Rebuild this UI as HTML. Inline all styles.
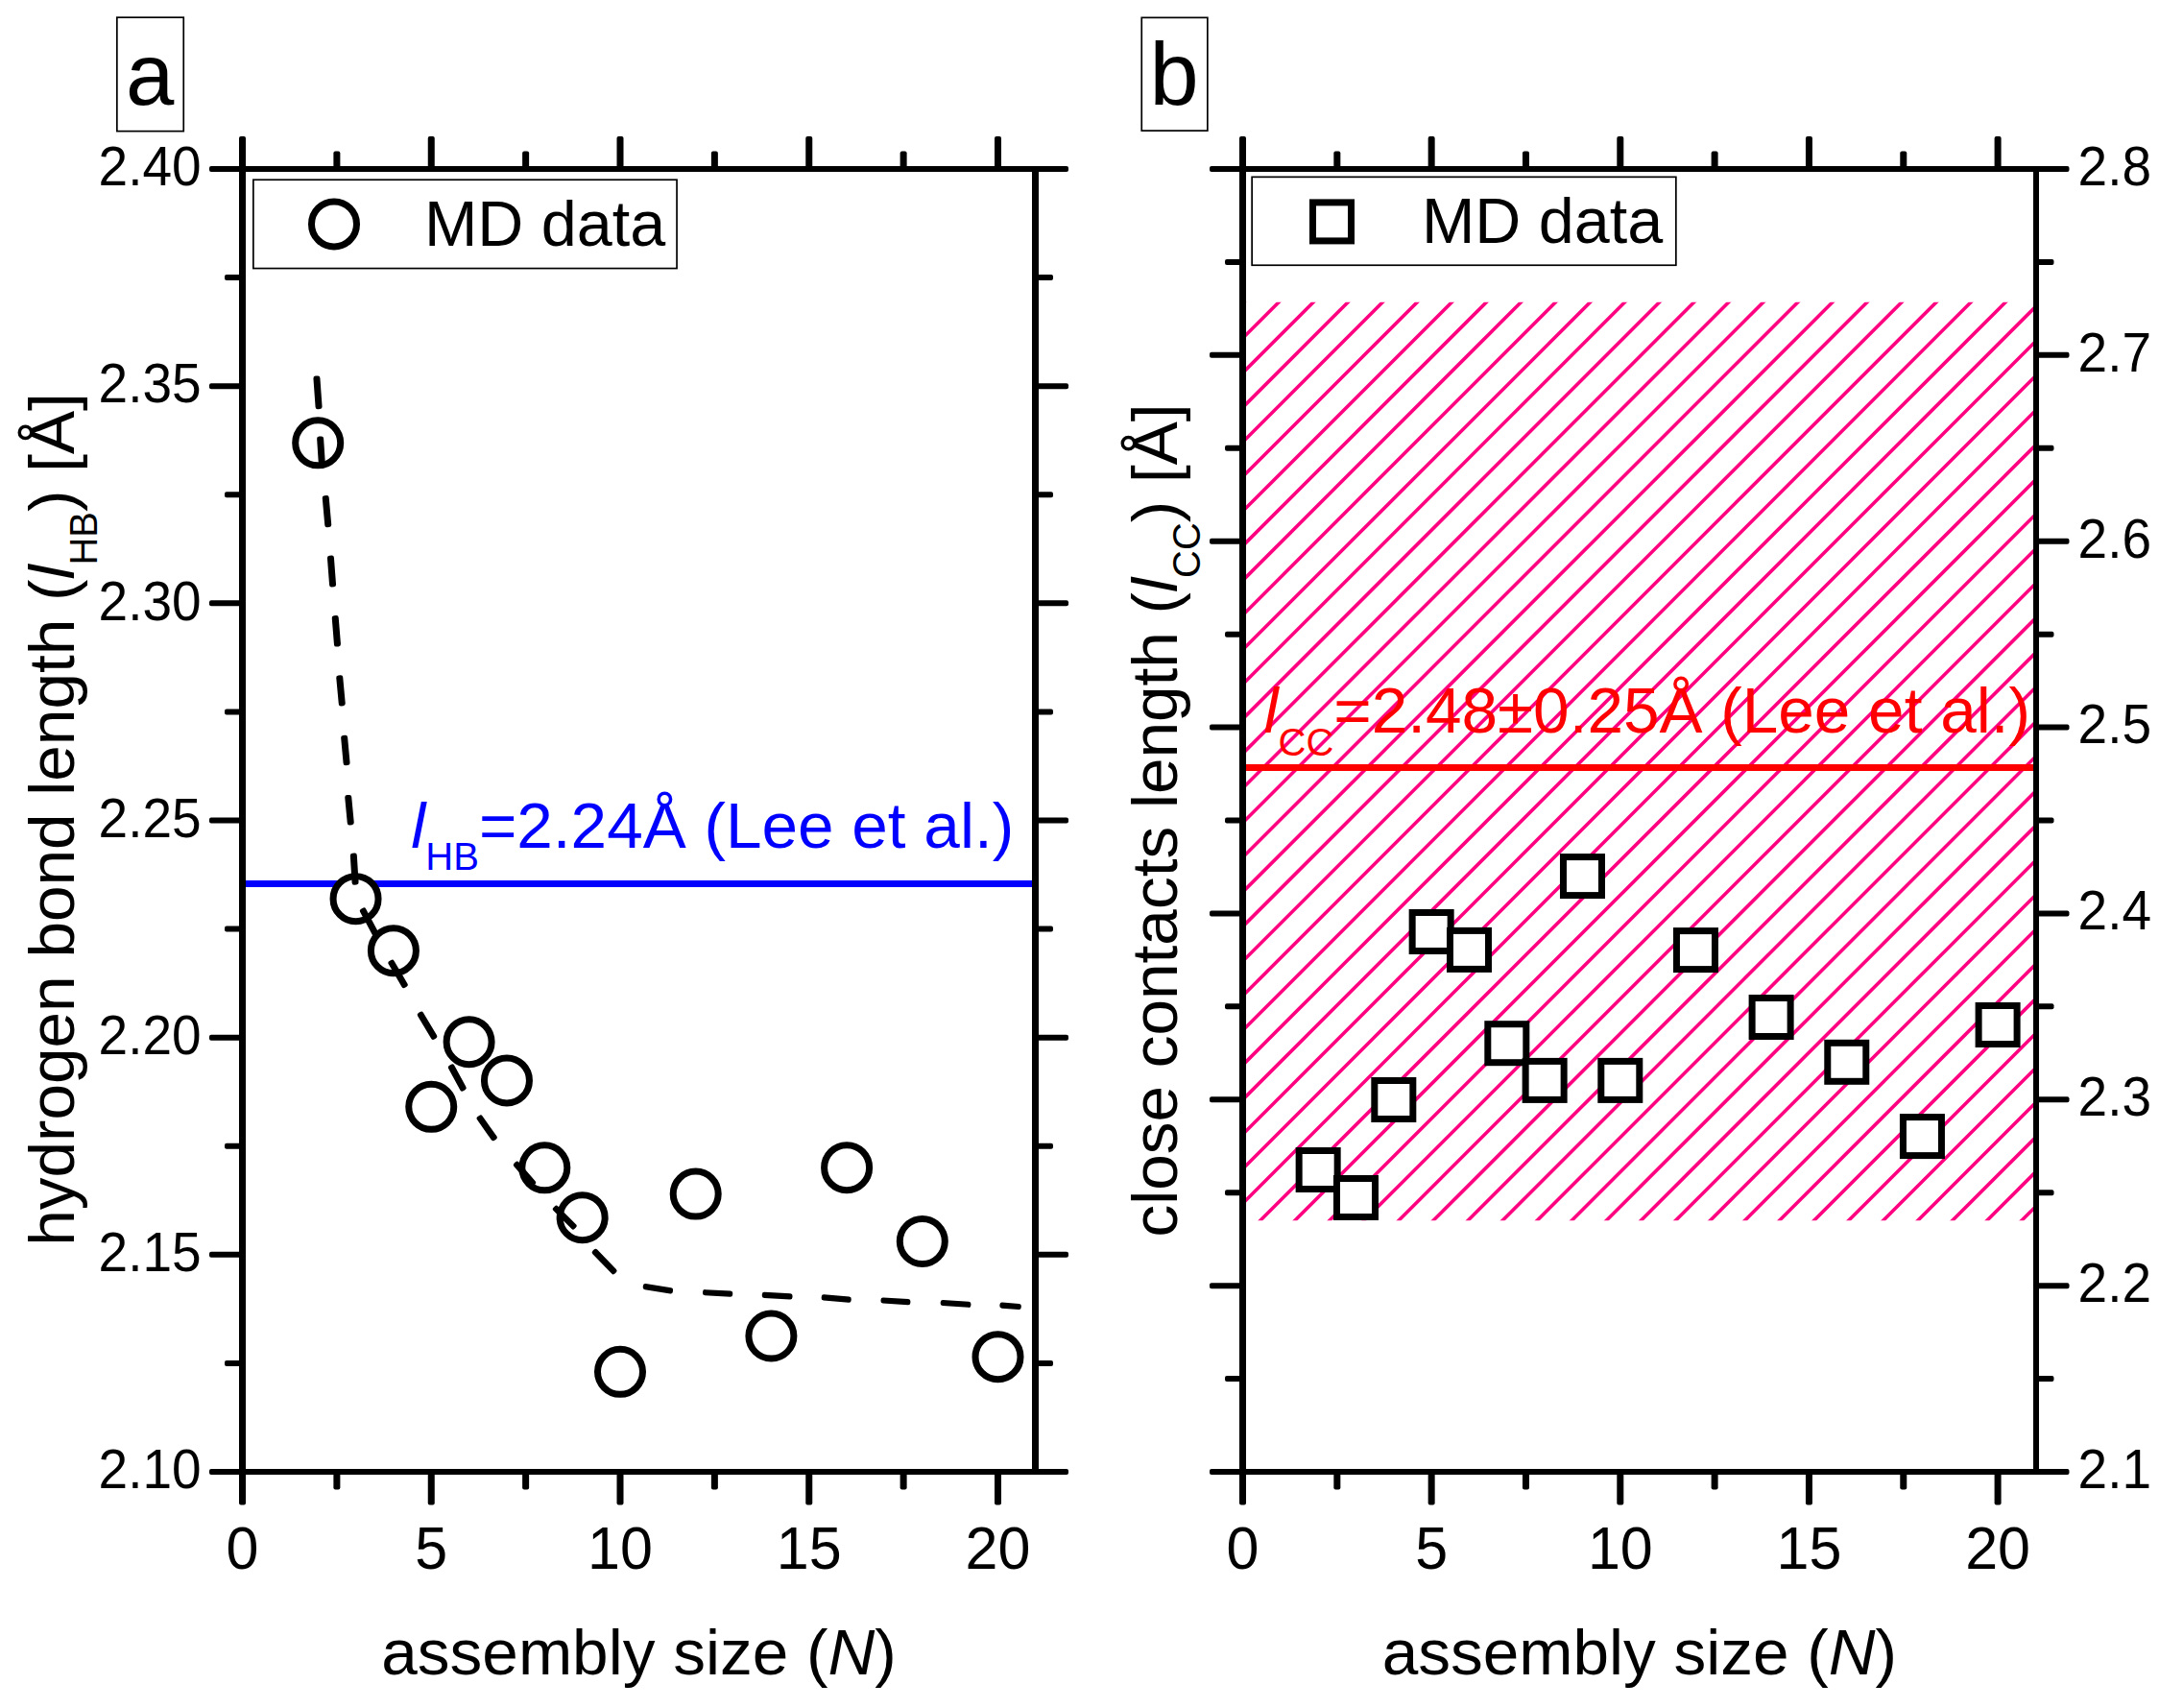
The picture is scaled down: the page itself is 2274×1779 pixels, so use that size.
<!DOCTYPE html>
<html><head><meta charset="utf-8"><title>figure</title>
<style>
html,body{margin:0;padding:0;background:#fff;}
body{width:2274px;height:1779px;overflow:hidden;}
svg{display:block;}
text{font-family:"Liberation Sans", Arial, sans-serif;fill:#000;}
.bx{stroke:#000;stroke-width:1.7;fill:#fff;}
.mk{stroke:#000;stroke-width:7;fill:#fff;}
</style></head><body>
<svg width="2274" height="1779" viewBox="0 0 2274 1779">
<rect x="0" y="0" width="2274" height="1779" fill="#fff"/>
<g id="panelA">
<line x1="252.5" y1="920.5" x2="1078.5" y2="920.5" stroke="#0000ff" stroke-width="7"/>
<circle class="mk" cx="331.20" cy="461.3" r="23.5"/>
<circle class="mk" cx="370.55" cy="936.2" r="23.5"/>
<circle class="mk" cx="409.90" cy="990.2" r="23.5"/>
<circle class="mk" cx="449.25" cy="1152.8" r="23.5"/>
<circle class="mk" cx="488.60" cy="1085.2" r="23.5"/>
<circle class="mk" cx="527.95" cy="1125.4" r="23.5"/>
<circle class="mk" cx="567.30" cy="1216.3" r="23.5"/>
<circle class="mk" cx="606.65" cy="1268.2" r="23.5"/>
<circle class="mk" cx="646.00" cy="1428.8" r="23.5"/>
<circle class="mk" cx="724.70" cy="1243.6" r="23.5"/>
<circle class="mk" cx="803.40" cy="1391.5" r="23.5"/>
<circle class="mk" cx="882.10" cy="1216.2" r="23.5"/>
<circle class="mk" cx="960.80" cy="1293.0" r="23.5"/>
<circle class="mk" cx="1039.50" cy="1413.2" r="23.5"/>
<rect x="-17.34" y="-3.50" width="34.68" height="7.00" rx="2.4" fill="#000" transform="translate(331.00 408.80) rotate(85.89)"/>
<rect x="-14.28" y="-3.50" width="28.55" height="7.00" rx="2.4" fill="#000" transform="translate(334.40 468.75) rotate(86.26)"/>
<rect x="-16.56" y="-3.50" width="33.12" height="6.99" rx="2.4" fill="#000" transform="translate(340.50 532.60) rotate(84.88)"/>
<rect x="-16.39" y="-3.50" width="32.78" height="7.00" rx="2.4" fill="#000" transform="translate(345.50 594.95) rotate(85.62)"/>
<rect x="-16.25" y="-3.50" width="32.49" height="7.00" rx="2.4" fill="#000" transform="translate(350.35 657.30) rotate(85.37)"/>
<rect x="-16.06" y="-3.50" width="32.12" height="6.99" rx="2.4" fill="#000" transform="translate(355.00 719.30) rotate(84.69)"/>
<rect x="-15.76" y="-3.50" width="31.51" height="6.99" rx="2.4" fill="#000" transform="translate(359.85 781.50) rotate(84.79)"/>
<rect x="-15.71" y="-3.50" width="31.42" height="6.99" rx="2.4" fill="#000" transform="translate(364.00 843.65) rotate(84.56)"/>
<rect x="-16.53" y="-3.50" width="33.06" height="7.00" rx="2.4" fill="#000" transform="translate(369.20 905.10) rotate(86.45)"/>
<rect x="-16.05" y="-3.42" width="32.09" height="6.83" rx="2.4" fill="#000" transform="translate(384.60 960.40) rotate(61.98)"/>
<rect x="-16.03" y="-3.40" width="32.06" height="6.80" rx="2.4" fill="#000" transform="translate(414.60 1014.40) rotate(59.60)"/>
<rect x="-16.06" y="-3.40" width="32.13" height="6.80" rx="2.4" fill="#000" transform="translate(445.05 1068.25) rotate(58.97)"/>
<rect x="-15.20" y="-3.41" width="30.40" height="6.83" rx="2.4" fill="#000" transform="translate(476.30 1122.50) rotate(61.49)"/>
<rect x="-15.17" y="-3.37" width="30.33" height="6.74" rx="2.4" fill="#000" transform="translate(507.20 1174.85) rotate(54.74)"/>
<rect x="-15.47" y="-3.33" width="30.93" height="6.67" rx="2.4" fill="#000" transform="translate(546.55 1222.55) rotate(48.91)"/>
<rect x="-15.65" y="-3.31" width="31.29" height="6.61" rx="2.4" fill="#000" transform="translate(588.25 1268.15) rotate(45.00)"/>
<rect x="-16.57" y="-3.31" width="33.14" height="6.62" rx="2.4" fill="#000" transform="translate(629.65 1314.05) rotate(45.83)"/>
<rect x="-15.77" y="-3.11" width="31.54" height="6.22" rx="2.4" fill="#000" transform="translate(685.40 1342.25) rotate(8.98)"/>
<rect x="-15.62" y="-3.10" width="31.24" height="6.20" rx="2.4" fill="#000" transform="translate(747.60 1346.95) rotate(3.16)"/>
<rect x="-15.87" y="-3.10" width="31.74" height="6.20" rx="2.4" fill="#000" transform="translate(809.65 1349.65) rotate(3.10)"/>
<rect x="-15.55" y="-3.10" width="31.10" height="6.21" rx="2.4" fill="#000" transform="translate(871.20 1352.55) rotate(4.87)"/>
<rect x="-15.48" y="-3.10" width="30.95" height="6.20" rx="2.4" fill="#000" transform="translate(932.95 1355.35) rotate(3.62)"/>
<rect x="-15.88" y="-3.10" width="31.76" height="6.20" rx="2.4" fill="#000" transform="translate(995.55 1357.90) rotate(3.72)"/>
<rect x="-11.23" y="-3.10" width="22.46" height="6.21" rx="2.4" fill="#000" transform="translate(1052.60 1360.25) rotate(4.66)"/>
<text x="428.3" y="883.4" font-size="67.5" style="fill:#0000ff"><tspan font-style="italic">l</tspan><tspan font-size="40" dy="22.6">HB</tspan><tspan dy="-22.6">=2.24Å (Lee et al.)</tspan></text>
<rect class="bx" x="263.85" y="187.25" width="441.2" height="92.3"/>
<circle class="mk" cx="348" cy="233.4" r="23.5"/>
<text x="441.9" y="255.6" font-size="66.5">MD data</text>
<rect x="249.00" y="142.00" width="7" height="37.00" rx="2" fill="#000"/>
<rect x="249.00" y="1530.00" width="7" height="37.50" rx="2" fill="#000"/>
<rect x="445.75" y="142.00" width="7" height="37.00" rx="2" fill="#000"/>
<rect x="445.75" y="1530.00" width="7" height="37.50" rx="2" fill="#000"/>
<rect x="642.50" y="142.00" width="7" height="37.00" rx="2" fill="#000"/>
<rect x="642.50" y="1530.00" width="7" height="37.50" rx="2" fill="#000"/>
<rect x="839.25" y="142.00" width="7" height="37.00" rx="2" fill="#000"/>
<rect x="839.25" y="1530.00" width="7" height="37.50" rx="2" fill="#000"/>
<rect x="1036.00" y="142.00" width="7" height="37.00" rx="2" fill="#000"/>
<rect x="1036.00" y="1530.00" width="7" height="37.50" rx="2" fill="#000"/>
<rect x="347.38" y="157.50" width="7" height="21.50" rx="2" fill="#000"/>
<rect x="347.38" y="1530.00" width="7" height="21.50" rx="2" fill="#000"/>
<rect x="544.12" y="157.50" width="7" height="21.50" rx="2" fill="#000"/>
<rect x="544.12" y="1530.00" width="7" height="21.50" rx="2" fill="#000"/>
<rect x="740.88" y="157.50" width="7" height="21.50" rx="2" fill="#000"/>
<rect x="740.88" y="1530.00" width="7" height="21.50" rx="2" fill="#000"/>
<rect x="937.62" y="157.50" width="7" height="21.50" rx="2" fill="#000"/>
<rect x="937.62" y="1530.00" width="7" height="21.50" rx="2" fill="#000"/>
<rect x="218.00" y="1530.00" width="37.50" height="6" rx="2" fill="#000"/>
<rect x="1075.50" y="1530.00" width="37.50" height="6" rx="2" fill="#000"/>
<rect x="218.00" y="1303.83" width="37.50" height="6" rx="2" fill="#000"/>
<rect x="1075.50" y="1303.83" width="37.50" height="6" rx="2" fill="#000"/>
<rect x="218.00" y="1077.67" width="37.50" height="6" rx="2" fill="#000"/>
<rect x="1075.50" y="1077.67" width="37.50" height="6" rx="2" fill="#000"/>
<rect x="218.00" y="851.50" width="37.50" height="6" rx="2" fill="#000"/>
<rect x="1075.50" y="851.50" width="37.50" height="6" rx="2" fill="#000"/>
<rect x="218.00" y="625.33" width="37.50" height="6" rx="2" fill="#000"/>
<rect x="1075.50" y="625.33" width="37.50" height="6" rx="2" fill="#000"/>
<rect x="218.00" y="399.17" width="37.50" height="6" rx="2" fill="#000"/>
<rect x="1075.50" y="399.17" width="37.50" height="6" rx="2" fill="#000"/>
<rect x="218.00" y="173.00" width="37.50" height="6" rx="2" fill="#000"/>
<rect x="1075.50" y="173.00" width="37.50" height="6" rx="2" fill="#000"/>
<rect x="234.00" y="1416.92" width="21.50" height="6" rx="2" fill="#000"/>
<rect x="1075.50" y="1416.92" width="21.50" height="6" rx="2" fill="#000"/>
<rect x="234.00" y="1190.75" width="21.50" height="6" rx="2" fill="#000"/>
<rect x="1075.50" y="1190.75" width="21.50" height="6" rx="2" fill="#000"/>
<rect x="234.00" y="964.58" width="21.50" height="6" rx="2" fill="#000"/>
<rect x="1075.50" y="964.58" width="21.50" height="6" rx="2" fill="#000"/>
<rect x="234.00" y="738.42" width="21.50" height="6" rx="2" fill="#000"/>
<rect x="1075.50" y="738.42" width="21.50" height="6" rx="2" fill="#000"/>
<rect x="234.00" y="512.25" width="21.50" height="6" rx="2" fill="#000"/>
<rect x="1075.50" y="512.25" width="21.50" height="6" rx="2" fill="#000"/>
<rect x="234.00" y="286.08" width="21.50" height="6" rx="2" fill="#000"/>
<rect x="1075.50" y="286.08" width="21.50" height="6" rx="2" fill="#000"/>
<line x1="252.50" y1="173.00" x2="252.50" y2="1536.00" stroke="#000" stroke-width="7"/>
<line x1="1078.50" y1="173.00" x2="1078.50" y2="1536.00" stroke="#000" stroke-width="7"/>
<line x1="249.00" y1="176.00" x2="1082.00" y2="176.00" stroke="#000" stroke-width="6"/>
<line x1="249.00" y1="1533.00" x2="1082.00" y2="1533.00" stroke="#000" stroke-width="6"/>
<text transform="translate(209.6 1550.20) scale(1 1.045)" font-size="55" text-anchor="end">2.10</text>
<text transform="translate(209.6 1324.03) scale(1 1.045)" font-size="55" text-anchor="end">2.15</text>
<text transform="translate(209.6 1097.87) scale(1 1.045)" font-size="55" text-anchor="end">2.20</text>
<text transform="translate(209.6 871.70) scale(1 1.045)" font-size="55" text-anchor="end">2.25</text>
<text transform="translate(209.6 645.53) scale(1 1.045)" font-size="55" text-anchor="end">2.30</text>
<text transform="translate(209.6 419.37) scale(1 1.045)" font-size="55" text-anchor="end">2.35</text>
<text transform="translate(209.6 193.20) scale(1 1.045)" font-size="55" text-anchor="end">2.40</text>
<text transform="translate(252.50 1634.3) scale(1 1.045)" font-size="61" text-anchor="middle">0</text>
<text transform="translate(449.25 1634.3) scale(1 1.045)" font-size="61" text-anchor="middle">5</text>
<text transform="translate(646.00 1634.3) scale(1 1.045)" font-size="61" text-anchor="middle">10</text>
<text transform="translate(842.75 1634.3) scale(1 1.045)" font-size="61" text-anchor="middle">15</text>
<text transform="translate(1039.50 1634.3) scale(1 1.045)" font-size="61" text-anchor="middle">20</text>
<text x="665.5" y="1743.6" font-size="67.5" text-anchor="middle">assembly size (<tspan font-style="italic">N</tspan>)</text>
<text transform="translate(77.3 853.5) rotate(-90)" font-size="67.5" text-anchor="middle">hydrogen bond length (<tspan font-style="italic">l</tspan><tspan font-size="40" dy="23.5">HB</tspan><tspan dy="-23.5">) [Å]</tspan></text>
<rect class="bx" x="121.85" y="18.15" width="69.4" height="118.5"/>
<text x="130.9" y="109" font-size="90.5">a</text>
</g>
<g id="panelB">
<defs><clipPath id="hc"><rect x="1297.9" y="314.8" width="820.20" height="956.4000000000001"/></clipPath></defs>
<g clip-path="url(#hc)" stroke="#ff0080" stroke-width="3.6" fill="none">
<line x1="262.45" y1="1276.20" x2="1228.85" y2="309.80"/>
<line x1="298.50" y1="1276.20" x2="1264.90" y2="309.80"/>
<line x1="334.55" y1="1276.20" x2="1300.95" y2="309.80"/>
<line x1="370.60" y1="1276.20" x2="1337.00" y2="309.80"/>
<line x1="406.65" y1="1276.20" x2="1373.05" y2="309.80"/>
<line x1="442.70" y1="1276.20" x2="1409.10" y2="309.80"/>
<line x1="478.75" y1="1276.20" x2="1445.15" y2="309.80"/>
<line x1="514.80" y1="1276.20" x2="1481.20" y2="309.80"/>
<line x1="550.85" y1="1276.20" x2="1517.25" y2="309.80"/>
<line x1="586.90" y1="1276.20" x2="1553.30" y2="309.80"/>
<line x1="622.95" y1="1276.20" x2="1589.35" y2="309.80"/>
<line x1="659.00" y1="1276.20" x2="1625.40" y2="309.80"/>
<line x1="695.05" y1="1276.20" x2="1661.45" y2="309.80"/>
<line x1="731.10" y1="1276.20" x2="1697.50" y2="309.80"/>
<line x1="767.15" y1="1276.20" x2="1733.55" y2="309.80"/>
<line x1="803.20" y1="1276.20" x2="1769.60" y2="309.80"/>
<line x1="839.25" y1="1276.20" x2="1805.65" y2="309.80"/>
<line x1="875.30" y1="1276.20" x2="1841.70" y2="309.80"/>
<line x1="911.35" y1="1276.20" x2="1877.75" y2="309.80"/>
<line x1="947.40" y1="1276.20" x2="1913.80" y2="309.80"/>
<line x1="983.45" y1="1276.20" x2="1949.85" y2="309.80"/>
<line x1="1019.50" y1="1276.20" x2="1985.90" y2="309.80"/>
<line x1="1055.55" y1="1276.20" x2="2021.95" y2="309.80"/>
<line x1="1091.60" y1="1276.20" x2="2058.00" y2="309.80"/>
<line x1="1127.65" y1="1276.20" x2="2094.05" y2="309.80"/>
<line x1="1163.70" y1="1276.20" x2="2130.10" y2="309.80"/>
<line x1="1199.75" y1="1276.20" x2="2166.15" y2="309.80"/>
<line x1="1235.80" y1="1276.20" x2="2202.20" y2="309.80"/>
<line x1="1271.85" y1="1276.20" x2="2238.25" y2="309.80"/>
<line x1="1307.90" y1="1276.20" x2="2274.30" y2="309.80"/>
<line x1="1343.95" y1="1276.20" x2="2310.35" y2="309.80"/>
<line x1="1380.00" y1="1276.20" x2="2346.40" y2="309.80"/>
<line x1="1416.05" y1="1276.20" x2="2382.45" y2="309.80"/>
<line x1="1452.10" y1="1276.20" x2="2418.50" y2="309.80"/>
<line x1="1488.15" y1="1276.20" x2="2454.55" y2="309.80"/>
<line x1="1524.20" y1="1276.20" x2="2490.60" y2="309.80"/>
<line x1="1560.25" y1="1276.20" x2="2526.65" y2="309.80"/>
<line x1="1596.30" y1="1276.20" x2="2562.70" y2="309.80"/>
<line x1="1632.35" y1="1276.20" x2="2598.75" y2="309.80"/>
<line x1="1668.40" y1="1276.20" x2="2634.80" y2="309.80"/>
<line x1="1704.45" y1="1276.20" x2="2670.85" y2="309.80"/>
<line x1="1740.50" y1="1276.20" x2="2706.90" y2="309.80"/>
<line x1="1776.55" y1="1276.20" x2="2742.95" y2="309.80"/>
<line x1="1812.60" y1="1276.20" x2="2779.00" y2="309.80"/>
<line x1="1848.65" y1="1276.20" x2="2815.05" y2="309.80"/>
<line x1="1884.70" y1="1276.20" x2="2851.10" y2="309.80"/>
<line x1="1920.75" y1="1276.20" x2="2887.15" y2="309.80"/>
<line x1="1956.80" y1="1276.20" x2="2923.20" y2="309.80"/>
<line x1="1992.85" y1="1276.20" x2="2959.25" y2="309.80"/>
<line x1="2028.90" y1="1276.20" x2="2995.30" y2="309.80"/>
<line x1="2064.95" y1="1276.20" x2="3031.35" y2="309.80"/>
<line x1="2101.00" y1="1276.20" x2="3067.40" y2="309.80"/>
<line x1="2137.05" y1="1276.20" x2="3103.45" y2="309.80"/>
</g>
<line x1="1294.5" y1="799.5" x2="2121.0" y2="799.5" stroke="#ff0000" stroke-width="7"/>
<text x="1316.5" y="762.9" font-size="67.5" style="fill:#ff0000"><tspan font-style="italic">l</tspan><tspan font-size="40" dy="24.2">CC</tspan><tspan dy="-24.2">=2.48±0.25Å (Lee et al.)</tspan></text>
<rect class="mk" x="1353.16" y="1198.50" width="40" height="40"/>
<rect class="mk" x="1392.49" y="1227.50" width="40" height="40"/>
<rect class="mk" x="1431.82" y="1125.50" width="40" height="40"/>
<rect class="mk" x="1471.15" y="950.50" width="40" height="40"/>
<rect class="mk" x="1510.48" y="969.40" width="40" height="40"/>
<rect class="mk" x="1549.81" y="1066.70" width="40" height="40"/>
<rect class="mk" x="1589.14" y="1105.40" width="40" height="40"/>
<rect class="mk" x="1628.47" y="892.60" width="40" height="40"/>
<rect class="mk" x="1667.80" y="1105.40" width="40" height="40"/>
<rect class="mk" x="1746.46" y="969.60" width="40" height="40"/>
<rect class="mk" x="1825.12" y="1039.50" width="40" height="40"/>
<rect class="mk" x="1903.78" y="1086.30" width="40" height="40"/>
<rect class="mk" x="1982.44" y="1163.60" width="40" height="40"/>
<rect class="mk" x="2061.10" y="1047.50" width="40" height="40"/>
<rect class="bx" x="1304.15" y="184.35" width="441.7" height="91.9"/>
<rect class="mk" x="1367.5" y="210.9" width="40" height="40"/>
<text x="1480.9" y="252.9" font-size="66.5">MD data</text>
<rect x="1291.00" y="142.00" width="7" height="37.00" rx="2" fill="#000"/>
<rect x="1291.00" y="1530.00" width="7" height="37.50" rx="2" fill="#000"/>
<rect x="1487.65" y="142.00" width="7" height="37.00" rx="2" fill="#000"/>
<rect x="1487.65" y="1530.00" width="7" height="37.50" rx="2" fill="#000"/>
<rect x="1684.30" y="142.00" width="7" height="37.00" rx="2" fill="#000"/>
<rect x="1684.30" y="1530.00" width="7" height="37.50" rx="2" fill="#000"/>
<rect x="1880.95" y="142.00" width="7" height="37.00" rx="2" fill="#000"/>
<rect x="1880.95" y="1530.00" width="7" height="37.50" rx="2" fill="#000"/>
<rect x="2077.60" y="142.00" width="7" height="37.00" rx="2" fill="#000"/>
<rect x="2077.60" y="1530.00" width="7" height="37.50" rx="2" fill="#000"/>
<rect x="1389.33" y="157.50" width="7" height="21.50" rx="2" fill="#000"/>
<rect x="1389.33" y="1530.00" width="7" height="21.50" rx="2" fill="#000"/>
<rect x="1585.97" y="157.50" width="7" height="21.50" rx="2" fill="#000"/>
<rect x="1585.97" y="1530.00" width="7" height="21.50" rx="2" fill="#000"/>
<rect x="1782.62" y="157.50" width="7" height="21.50" rx="2" fill="#000"/>
<rect x="1782.62" y="1530.00" width="7" height="21.50" rx="2" fill="#000"/>
<rect x="1979.28" y="157.50" width="7" height="21.50" rx="2" fill="#000"/>
<rect x="1979.28" y="1530.00" width="7" height="21.50" rx="2" fill="#000"/>
<rect x="1260.00" y="1530.00" width="37.50" height="6" rx="2" fill="#000"/>
<rect x="2118.00" y="1530.00" width="37.50" height="6" rx="2" fill="#000"/>
<rect x="1260.00" y="1336.14" width="37.50" height="6" rx="2" fill="#000"/>
<rect x="2118.00" y="1336.14" width="37.50" height="6" rx="2" fill="#000"/>
<rect x="1260.00" y="1142.29" width="37.50" height="6" rx="2" fill="#000"/>
<rect x="2118.00" y="1142.29" width="37.50" height="6" rx="2" fill="#000"/>
<rect x="1260.00" y="948.43" width="37.50" height="6" rx="2" fill="#000"/>
<rect x="2118.00" y="948.43" width="37.50" height="6" rx="2" fill="#000"/>
<rect x="1260.00" y="754.57" width="37.50" height="6" rx="2" fill="#000"/>
<rect x="2118.00" y="754.57" width="37.50" height="6" rx="2" fill="#000"/>
<rect x="1260.00" y="560.71" width="37.50" height="6" rx="2" fill="#000"/>
<rect x="2118.00" y="560.71" width="37.50" height="6" rx="2" fill="#000"/>
<rect x="1260.00" y="366.86" width="37.50" height="6" rx="2" fill="#000"/>
<rect x="2118.00" y="366.86" width="37.50" height="6" rx="2" fill="#000"/>
<rect x="1260.00" y="173.00" width="37.50" height="6" rx="2" fill="#000"/>
<rect x="2118.00" y="173.00" width="37.50" height="6" rx="2" fill="#000"/>
<rect x="1276.00" y="1433.07" width="21.50" height="6" rx="2" fill="#000"/>
<rect x="2118.00" y="1433.07" width="21.50" height="6" rx="2" fill="#000"/>
<rect x="1276.00" y="1239.21" width="21.50" height="6" rx="2" fill="#000"/>
<rect x="2118.00" y="1239.21" width="21.50" height="6" rx="2" fill="#000"/>
<rect x="1276.00" y="1045.36" width="21.50" height="6" rx="2" fill="#000"/>
<rect x="2118.00" y="1045.36" width="21.50" height="6" rx="2" fill="#000"/>
<rect x="1276.00" y="851.50" width="21.50" height="6" rx="2" fill="#000"/>
<rect x="2118.00" y="851.50" width="21.50" height="6" rx="2" fill="#000"/>
<rect x="1276.00" y="657.64" width="21.50" height="6" rx="2" fill="#000"/>
<rect x="2118.00" y="657.64" width="21.50" height="6" rx="2" fill="#000"/>
<rect x="1276.00" y="463.79" width="21.50" height="6" rx="2" fill="#000"/>
<rect x="2118.00" y="463.79" width="21.50" height="6" rx="2" fill="#000"/>
<rect x="1276.00" y="269.93" width="21.50" height="6" rx="2" fill="#000"/>
<rect x="2118.00" y="269.93" width="21.50" height="6" rx="2" fill="#000"/>
<line x1="1294.50" y1="173.00" x2="1294.50" y2="1536.00" stroke="#000" stroke-width="7"/>
<line x1="2121.00" y1="173.00" x2="2121.00" y2="1536.00" stroke="#000" stroke-width="6"/>
<line x1="1291.00" y1="176.00" x2="2124.00" y2="176.00" stroke="#000" stroke-width="6"/>
<line x1="1291.00" y1="1533.00" x2="2124.00" y2="1533.00" stroke="#000" stroke-width="6"/>
<text transform="translate(2164.6 1549.80) scale(1 1.045)" font-size="55">2.1</text>
<text transform="translate(2164.6 1355.94) scale(1 1.045)" font-size="55">2.2</text>
<text transform="translate(2164.6 1162.09) scale(1 1.045)" font-size="55">2.3</text>
<text transform="translate(2164.6 968.23) scale(1 1.045)" font-size="55">2.4</text>
<text transform="translate(2164.6 774.37) scale(1 1.045)" font-size="55">2.5</text>
<text transform="translate(2164.6 580.51) scale(1 1.045)" font-size="55">2.6</text>
<text transform="translate(2164.6 386.66) scale(1 1.045)" font-size="55">2.7</text>
<text transform="translate(2164.6 192.80) scale(1 1.045)" font-size="55">2.8</text>
<text transform="translate(1294.50 1634.3) scale(1 1.045)" font-size="61" text-anchor="middle">0</text>
<text transform="translate(1491.15 1634.3) scale(1 1.045)" font-size="61" text-anchor="middle">5</text>
<text transform="translate(1687.80 1634.3) scale(1 1.045)" font-size="61" text-anchor="middle">10</text>
<text transform="translate(1884.45 1634.3) scale(1 1.045)" font-size="61" text-anchor="middle">15</text>
<text transform="translate(2081.10 1634.3) scale(1 1.045)" font-size="61" text-anchor="middle">20</text>
<text x="1707.9" y="1743.9" font-size="67.5" text-anchor="middle">assembly size (<tspan font-style="italic">N</tspan>)</text>
<text transform="translate(1225.6 854.5) rotate(-90)" font-size="67.5" text-anchor="middle">close contacts length (<tspan font-style="italic">l</tspan><tspan font-size="40" dy="24.5">CC</tspan><tspan dy="-24.5">) [Å]</tspan></text>
<rect class="bx" x="1189.25" y="18.35" width="68.6" height="117.8"/>
<text x="1197.5" y="109" font-size="92">b</text>
</g>
</svg></body></html>
